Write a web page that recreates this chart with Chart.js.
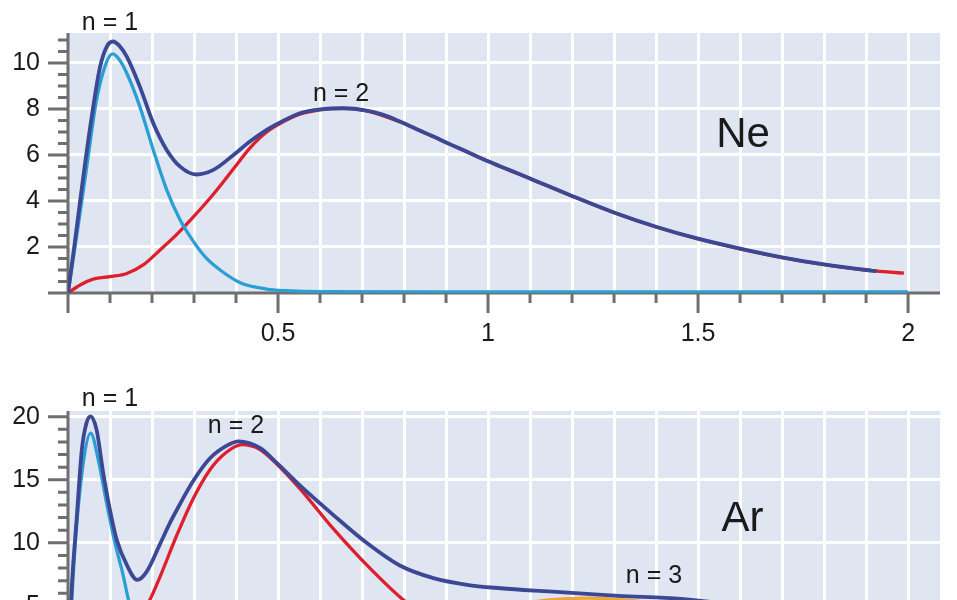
<!DOCTYPE html>
<html>
<head>
<meta charset="utf-8">
<script src="https://cdn.jsdelivr.net/npm/chart.js@4.4.1/dist/chart.umd.min.js"></script>
<style>
  html, body { margin: 0; padding: 0; background: #fff; overflow: hidden; }
  #wrap { position: relative; width: 957px; height: 600px; overflow: hidden; }
  canvas { position: absolute; left: 0; }
  #ne { top: 0; }
  #ar { top: 360px; }
</style>
</head>
<body>
<div id="wrap">
  <canvas id="ne" width="957" height="350"></canvas>
  <canvas id="ar" width="957" height="360"></canvas>
</div>
<script>
// radial distribution curves, r in bohr

// Ne
const neTotalX = [0, 0.017, 0.036, 0.056, 0.076, 0.092, 0.107, 0.122, 0.14, 0.171, 0.203, 0.235, 0.267, 0.306, 0.346, 0.394, 0.433, 0.473, 0.513, 0.552, 0.6, 0.656, 0.711, 0.751, 0.79, 0.83, 0.87, 0.91, 0.95, 0.99, 1.03, 1.1, 1.2, 1.3, 1.4, 1.5, 1.6, 1.7, 1.8, 1.9, 1.925];
const neTotalY = [0, 2.3, 5.0, 7.6, 9.8, 10.7, 10.93, 10.75, 10.27, 8.97, 7.38, 6.22, 5.49, 5.15, 5.35, 6.0, 6.58, 7.09, 7.49, 7.81, 7.98, 8.03, 7.93, 7.74, 7.45, 7.12, 6.8, 6.46, 6.14, 5.8, 5.5, 4.98, 4.22, 3.5, 2.88, 2.36, 1.93, 1.55, 1.24, 1.0, 0.95];

const neN1X = [0, 0.02, 0.044, 0.068, 0.09, 0.106, 0.122, 0.14, 0.171, 0.203, 0.235, 0.267, 0.3, 0.33, 0.362, 0.41, 0.473, 0.52, 0.6, 1.0, 2.0];
const neN1Y = [0, 2.4, 5.4, 8.4, 9.95, 10.39, 10.15, 9.55, 8.1, 6.22, 4.48, 3.17, 2.2, 1.5, 1.0, 0.45, 0.17, 0.1, 0.06, 0.05, 0.05];

const neN2X = [0, 0.029, 0.06, 0.1, 0.14, 0.179, 0.219, 0.259, 0.298, 0.338, 0.362, 0.394, 0.433, 0.473, 0.513, 0.552, 0.6, 0.656, 0.711, 0.79, 0.87, 0.95, 1.03, 1.1, 1.2, 1.3, 1.4, 1.5, 1.6, 1.7, 1.8, 1.9, 1.95, 1.99];
const neN2Y = [0, 0.35, 0.6, 0.71, 0.85, 1.22, 1.87, 2.55, 3.3, 4.12, 4.65, 5.4, 6.3, 7.0, 7.45, 7.77, 7.96, 8.02, 7.92, 7.44, 6.79, 6.13, 5.49, 4.97, 4.21, 3.49, 2.87, 2.35, 1.92, 1.54, 1.23, 0.99, 0.92, 0.86];

// Ar
const arTotalX = [0, 0.009, 0.021, 0.033, 0.044, 0.054, 0.068, 0.084, 0.1, 0.116, 0.14, 0.165, 0.187, 0.219, 0.243, 0.267, 0.298, 0.338, 0.378, 0.406, 0.457, 0.497, 0.552, 0.632, 0.711, 0.79, 0.87, 0.95, 1.03, 1.11, 1.19, 1.31, 1.46, 1.6, 1.8, 2.0];
const arTotalY = [0, 6.5, 12.1, 17.4, 19.5, 20.03, 18.97, 15.5, 12.6, 10.24, 8.25, 7.06, 7.7, 9.9, 11.6, 13.1, 14.9, 16.7, 17.7, 18.04, 17.52, 16.33, 14.55, 12.2, 10.0, 8.2, 7.2, 6.67, 6.4, 6.21, 6.06, 5.8, 5.55, 5.0, 3.9, 2.8];

const arN1X = [0, 0.017, 0.037, 0.054, 0.072, 0.092, 0.112, 0.132, 0.144, 0.17, 0.22, 0.3, 0.5, 2.0];
const arN1Y = [0, 9.8, 16.5, 18.7, 16.6, 13.15, 9.97, 7.33, 5.5, 3.0, 1.0, 0.2, 0.05, 0.05];

const arN2X = [0, 0.04, 0.08, 0.12, 0.16, 0.195, 0.219, 0.259, 0.298, 0.338, 0.378, 0.414, 0.457, 0.497, 0.552, 0.632, 0.711, 0.798, 0.9, 1.0, 1.2, 1.5, 2.0];
const arN2Y = [0, 1.2, 0.9, 1.4, 3.6, 5.48, 7.3, 10.6, 13.5, 15.8, 17.2, 17.78, 17.4, 16.25, 14.3, 11.1, 8.25, 5.48, 3.0, 1.6, 0.5, 0.1, 0.02];

const arN3X = [0, 0.1, 0.2, 0.3, 0.45, 0.6, 0.75, 0.9, 1.0, 1.13, 1.24, 1.345, 1.5, 1.7, 2.0];
const arN3Y = [0, 0.3, 1.4, 0.6, 0.5, 1.1, 2.2, 3.6, 4.5, 5.42, 5.62, 5.42, 4.8, 3.6, 2.1];

const BG = '#dfe6f2';
const AXIS = '#6f6f6f';
const TOTAL = '#3c4894';
const C1 = '#2a9fd4';
const C2 = '#de1f2c';
const C3 = '#f2a33a';

Chart.defaults.font.family = '"Liberation Sans", Arial, Helvetica, sans-serif';
Chart.defaults.color = '#1a1a1a';

function pts(xs, ys) {
  return xs.map((x, i) => ({ x: x, y: ys[i] }));
}
function isMult(v, step) {
  const q = v / step;
  return Math.abs(q - Math.round(q)) < 1e-6;
}

const decor = {
  id: 'decor',
  beforeDraw(chart) {
    const a = chart.chartArea, c = chart.ctx;
    c.save();
    c.fillStyle = BG;
    c.fillRect(a.left, a.top, a.right - a.left, a.bottom - a.top);
    c.restore();
  },
  beforeDatasetsDraw(chart) {
    const a = chart.chartArea, c = chart.ctx;
    const o = chart.options.plugins.decor;
    const xs = chart.scales.x, ys = chart.scales.y;
    c.save();
    c.strokeStyle = AXIS;
    c.lineWidth = 3;
    c.beginPath();
    ys.ticks.forEach(t => {
      const p = ys.getPixelForValue(t.value);
      const len = isMult(t.value, o.yMajor) ? 20 : 10;
      c.moveTo(a.left - len, p);
      c.lineTo(a.left, p);
    });
    xs.ticks.forEach(t => {
      const p = xs.getPixelForValue(t.value);
      const len = isMult(t.value, 0.5) ? 20 : 10;
      c.moveTo(p, a.bottom);
      c.lineTo(p, a.bottom + len);
    });
    c.moveTo(a.left, a.top);
    c.lineTo(a.left, a.bottom);
    c.moveTo(a.left, a.bottom);
    c.lineTo(a.right, a.bottom);
    c.stroke();
    c.restore();
  },
  afterDraw(chart) {
    const c = chart.ctx;
    const xs = chart.scales.x, ys = chart.scales.y;
    c.save();
    c.fillStyle = '#1a1a1a';
    c.textAlign = 'center';
    c.textBaseline = 'alphabetic';
    chart.options.plugins.decor.notes.forEach(n => {
      c.font = n.size + 'px "Liberation Sans", Arial, sans-serif';
      c.fillText(n.text, xs.getPixelForValue(n.x), ys.getPixelForValue(n.y));
    });
    c.restore();
  }
};

function line(data, color, width) {
  return {
    data: data,
    borderColor: color,
    borderWidth: width,
    pointRadius: 0,
    fill: false,
    cubicInterpolationMode: 'monotone'
  };
}

function makeChart(id, o) {
  const canvas = document.getElementById(id);
  return new Chart(canvas, {
    type: 'line',
    data: { datasets: o.datasets },
    plugins: [decor],
    options: {
      responsive: false,
      animation: false,
      events: [],
      layout: { padding: { left: 0, right: 17, top: o.top, bottom: 0 } },
      plugins: {
        legend: { display: false },
        tooltip: { enabled: false },
        decor: { yMajor: o.yMajor, notes: o.notes }
      },
      scales: {
        x: {
          type: 'linear',
          min: 0,
          max: 2.076,
          afterFit: s => {
            s.height = canvas.height - o.bottom;
            s.paddingLeft = 0;
            s.paddingRight = 0;
          },
          border: { display: false },
          grid: {
            drawTicks: false,
            lineWidth: 3,
            color: ctx => ctx.tick && ctx.tick.value > 0 ? '#ffffff' : 'rgba(0,0,0,0)'
          },
          ticks: {
            stepSize: 0.1,
            includeBounds: false,
            autoSkip: false,
            maxRotation: 0,
            maxTicksLimit: 100,
            padding: 26,
            font: { size: 25 },
            callback: v => (v > 0 && isMult(v, 0.5)) ? String(+v.toFixed(1)) : ''
          }
        },
        y: {
          min: 0,
          max: o.yMax,
          afterFit: s => {
            s.width = 68;
            s.paddingTop = 0;
            s.paddingBottom = 0;
          },
          border: { display: false },
          grid: {
            drawTicks: false,
            lineWidth: 3,
            color: ctx => ctx.tick && ctx.tick.value > 0 && isMult(ctx.tick.value, o.yMajor) ? '#ffffff' : 'rgba(0,0,0,0)'
          },
          ticks: {
            stepSize: o.yMinor,
            includeBounds: false,
            autoSkip: false,
            maxTicksLimit: 100,
            padding: 28,
            font: { size: 25 },
            callback: v => (v > 0 && isMult(v, o.yMajor)) ? String(v) : ''
          }
        }
      }
    }
  });
}

makeChart('ne', {
  top: 33,
  bottom: 293,
  yMax: 11.3,
  yMinor: 0.5,
  yMajor: 2,
  datasets: [
    line(pts(neTotalX, neTotalY), TOTAL, 3.8),
    line(pts(neN1X, neN1Y), C1, 3.3),
    line(pts(neN2X, neN2Y), C2, 3.3)
  ],
  notes: [
    { text: 'n = 1', x: 0.1, y: 11.43, size: 25 },
    { text: 'n = 2', x: 0.65, y: 8.35, size: 25 },
    { text: 'Ne', x: 1.607, y: 6.35, size: 42 }
  ]
});

makeChart('ar', {
  top: 51,
  bottom: 309,
  yMax: 20.45,
  yMinor: 1,
  yMajor: 5,
  datasets: [
    line(pts(arTotalX, arTotalY), TOTAL, 3.8),
    line(pts(arN1X, arN1Y), C1, 3.3),
    line(pts(arN2X, arN2Y), C2, 3.3),
    line(pts(arN3X, arN3Y), C3, 3.3)
  ],
  notes: [
    { text: 'n = 1', x: 0.1, y: 20.82, size: 25 },
    { text: 'n = 2', x: 0.4, y: 18.73, size: 25 },
    { text: 'Ar', x: 1.606, y: 10.9, size: 42 },
    { text: 'n = 3', x: 1.395, y: 6.8, size: 25 }
  ]
});
</script>
</body>
</html>
